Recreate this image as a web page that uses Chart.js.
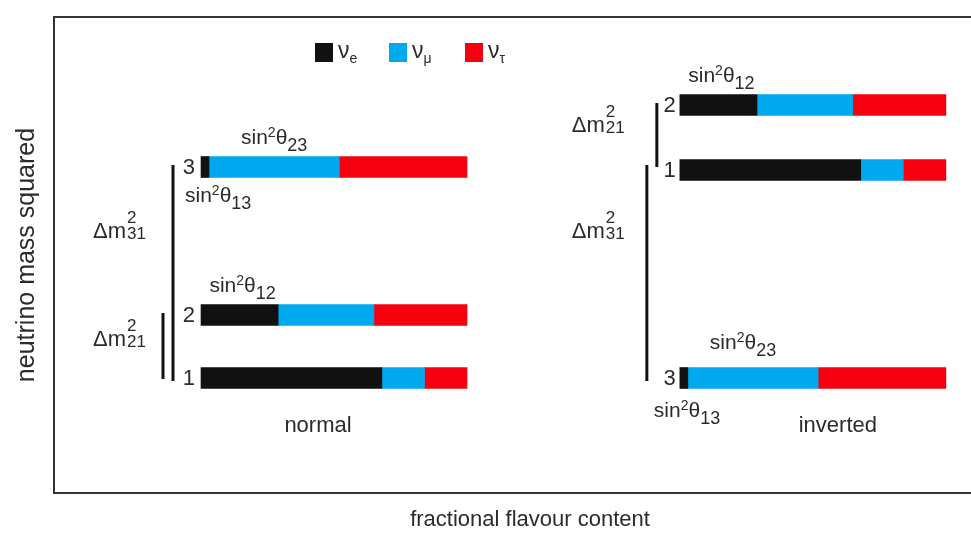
<html>
<head>
<script src="https://cdn.jsdelivr.net/npm/chart.js@4/dist/chart.umd.min.js"></script>
<style>
	body { margin: 0; overflow: hidden; background: #fff; }
	#container { width: 1010px; height: 533px; }
</style>
</head>
<body>
<div id="container"><canvas id="myChart" width="1010" height="533"></canvas></div>
<script>
	// mass eigenstates and the two orderings
	var states = ['1', '2', '3'];
	var orderings = ['normal', 'inverted'];
	// mass squared levels (arbitrary units), one per state
	var normalLevels = [11.5, 17.8, 32.6];
	var invertedLevels = [32.3, 38.8, 11.5];
	// flavour content of each state
	var flavours = ['νe', 'νμ', 'ντ'];
	var flavourSubs = ['e', 'μ', 'τ'];
	var nuE = [0.68, 0.29, 0.03];
	var nuMu = [0.16, 0.36, 0.49];
	var nuTau = [0.16, 0.35, 0.48];

	var colours = ['#111111', '#00a8ee', '#f4000e'];
	var FONT = '"Liberation Sans", Arial, sans-serif';
	var TEXT = '#2b2b2b';
	var GAP = 1.8; // where the inverted block starts on the x scale

	function levelsOf(oi) { return oi == 0 ? normalLevels : invertedLevels; }

	function buildData(fi) {
		var fracs = [nuE, nuMu, nuTau];
		var out = [];
		orderings.forEach(function(o, oi) {
			states.forEach(function(s, si) {
				var start = oi * GAP;
				for (var k = 0; k < fi; k++) start += fracs[k][si];
				out.push({x: [start, start + fracs[fi][si]], y: levelsOf(oi)[si]});
			});
		});
		return out;
	}

	// draws text pieces [text, size, dy] one after the other
	function rich(ctx, x, y, parts, align) {
		var w = 0;
		parts.forEach(function(p) { ctx.font = p[1] + 'px ' + FONT; p.w = ctx.measureText(p[0]).width; w += p.w; });
		var cx = align == 'center' ? x - w / 2 : (align == 'right' ? x - w : x);
		parts.forEach(function(p) { ctx.font = p[1] + 'px ' + FONT; ctx.fillText(p[0], cx, y + p[2]); cx += p.w; });
	}

	function sinLabel(ctx, x, y, sub, align) {
		rich(ctx, x, y, [['sin', 21, 0], ['2', 14, -7], ['θ', 21, 0], [sub, 18, 7]], align);
	}

	function dmLabel(ctx, x, y, sub) {
		ctx.font = '22px ' + FONT;
		ctx.fillText('Δm', x, y);
		var w = ctx.measureText('Δm').width;
		ctx.font = '17px ' + FONT;
		ctx.fillText('2', x + w + 1, y - 15);
		ctx.fillText(sub, x + w + 1, y + 1);
	}

	var annot = {
		id: 'annot',
		afterDatasetsDraw: function(chart) {
			var ctx = chart.ctx, xs = chart.scales.x, ys = chart.scales.y, ca = chart.chartArea;
			ctx.save();
			// top edge of the frame
			ctx.strokeStyle = '#333';
			ctx.lineWidth = 2;
			ctx.beginPath();
			ctx.moveTo(ca.left - 1, ca.top);
			ctx.lineTo(ca.right, ca.top);
			ctx.stroke();

			// legend
			ctx.textBaseline = 'alphabetic';
			var lx = [315, 389, 465];
			flavours.forEach(function(f, i) {
				ctx.fillStyle = colours[i];
				ctx.fillRect(lx[i], 43, 18, 19);
				ctx.fillStyle = TEXT;
				rich(ctx, lx[i] + 23, 58, [['ν', 23, 0], [flavourSubs[i], 14, 5]], 'left');
			});

			orderings.forEach(function(o, oi) {
				var lv = levelsOf(oi);
				var x0 = xs.getPixelForValue(oi * GAP);
				var py = function(si) { return ys.getPixelForValue(lv[si]); };
				ctx.fillStyle = TEXT;

				// state numbers
				ctx.font = '22px ' + FONT;
				ctx.textAlign = 'right';
				ctx.textBaseline = 'middle';
				states.forEach(function(s, si) { ctx.fillText(s, x0 - (oi == 0 ? 6 : 4), py(si) + 1); });
				ctx.textAlign = 'left';
				ctx.textBaseline = 'alphabetic';

				// mixing angle labels
				var th = 21 / 2;
				var c12 = xs.getPixelForValue(oi * GAP + nuE[1] / 2);
				sinLabel(ctx, c12 + 3, py(1) - th - 13, '12', 'center');
				var c23 = xs.getPixelForValue(oi * GAP + nuE[2] + nuMu[2] / 2);
				sinLabel(ctx, c23 - (oi == 0 ? 0 : 10), oi == 0 ? py(2) - th - 13 : py(2) - th - 19, '23', 'center');
				sinLabel(ctx, x0 - (oi == 0 ? 16 : 26), py(2) + th + (oi == 0 ? 24 : 28), '13', 'left');

				// ordering name
				ctx.font = '22px ' + FONT;
				ctx.textAlign = 'center';
				ctx.fillText(o, x0 + (oi == 0 ? 117 : 158), 432);
				ctx.textAlign = 'left';

				// mass splitting brackets
				ctx.strokeStyle = '#111';
				ctx.lineWidth = 3;
				ctx.beginPath();
				if (oi == 0) {
					ctx.moveTo(x0 - 28, py(2) - 2); ctx.lineTo(x0 - 28, py(0) + 3);
					ctx.moveTo(x0 - 38, py(1) - 2); ctx.lineTo(x0 - 38, py(0) + 1);
				} else {
					ctx.moveTo(x0 - 23, py(1) - 2); ctx.lineTo(x0 - 23, py(0) - 3);
					ctx.moveTo(x0 - 33, py(0) - 5); ctx.lineTo(x0 - 33, py(2) + 3);
				}
				ctx.stroke();

				var lab = x0 - 108;
				if (oi == 0) {
					dmLabel(ctx, lab, py(2) + 0.3 * (py(0) - py(2)) + 8, '31');
					dmLabel(ctx, lab, py(1) + 0.37 * (py(0) - py(1)) + 8, '21');
				} else {
					dmLabel(ctx, lab, py(0) + 0.29 * (py(2) - py(0)) + 8, '31');
					dmLabel(ctx, lab, py(1) + 0.29 * (py(0) - py(1)) + 8, '21');
				}
			});
			ctx.restore();
		}
	};

	var myChart = new Chart(document.getElementById('myChart').getContext('2d'), {
		type: 'bar',
		data: {
			datasets: flavours.map(function(f, i) {
				return {label: f, data: buildData(i), backgroundColor: colours[i], borderWidth: 0, barThickness: 21, grouped: false};
			})
		},
		options: {
			indexAxis: 'y',
			responsive: false,
			animation: false,
			layout: {padding: {top: 17, right: 4, left: 0, bottom: 0}},
			plugins: {legend: {display: false}, tooltip: {enabled: false}},
			scales: {
				x: {
					type: 'linear', min: -0.5526, max: 3.026, offset: false,
					grid: {display: false}, ticks: {display: false},
					border: {color: '#333', width: 2},
					title: {display: true, text: 'fractional flavour content', color: TEXT, font: {family: FONT, size: 22}, padding: 0},
					afterFit: function(s) { s.height = 40; }
				},
				y: {
					type: 'linear', min: 0, max: 47.6, offset: false,
					grid: {display: false}, ticks: {display: false},
					border: {color: '#333', width: 2},
					title: {display: true, text: 'neutrino mass squared', color: TEXT, font: {family: FONT, size: 25}, padding: {top: 12, bottom: 0}},
					afterFit: function(s) { s.width = 54; }
				}
			}
		},
		plugins: [annot]
	});
</script>
</body>
</html>
